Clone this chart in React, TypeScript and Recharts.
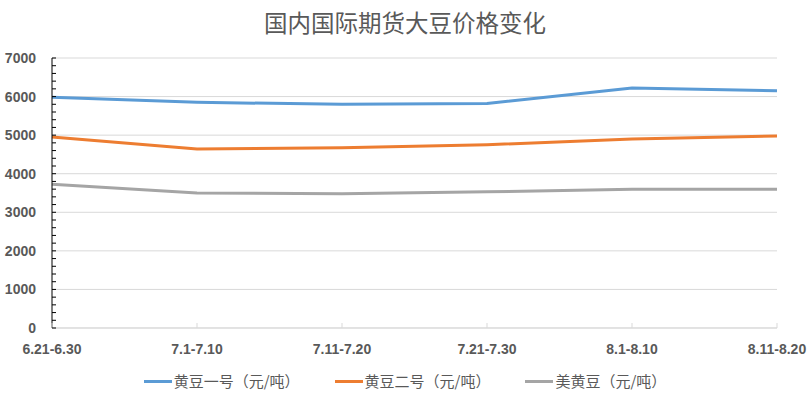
import { CartesianGrid, Line, LineChart, XAxis, YAxis } from "recharts";

const periods = [
  "6.21-6.30",
  "7.1-7.10",
  "7.11-7.20",
  "7.21-7.30",
  "8.1-8.10",
  "8.11-8.20",
];
const soyOne = [5980, 5850, 5800, 5820, 6220, 6150];
const soyTwo = [4950, 4640, 4670, 4750, 4900, 4980];
const usSoy = [3730, 3500, 3480, 3530, 3600, 3600];
const seriesNames = ["黄豆一号（元/吨）", "黄豆二号（元/吨）", "美黄豆（元/吨）"];
const seriesColors = ["#5B9BD5", "#ED7D31", "#A5A5A5"];
const yMajorTicks = [0, 1000, 2000, 3000, 4000, 5000, 6000, 7000];
const yMinorTicks = Array.from({ length: 36 }, (_, i) => i * 200);

const chartData = periods.map((period, i) => ({
  period,
  soyOne: soyOne[i],
  soyTwo: soyTwo[i],
  usSoy: usSoy[i],
}));
const seriesKeys = ["soyOne", "soyTwo", "usSoy"];

const labelFont = '"Liberation Sans", Arial, sans-serif';

const YTick = (props: any) => {
  const { x, y, payload } = props;
  const major = payload.value % 1000 === 0;
  return (
    <g>
      <line x1={x + 16} x2={x + 20} y1={y} y2={y} stroke="#000" strokeWidth={1} />
      {major ? (
        <text
          x={x}
          y={y}
          dy={5}
          textAnchor="end"
          fill="#595959"
          fontSize={14}
          fontWeight="bold"
          fontFamily={labelFont}
        >
          {payload.value}
        </text>
      ) : null}
    </g>
  );
};

const XTick = (props: any) => {
  const { x, y, payload } = props;
  return (
    <g>
      <line x1={x} x2={x} y1={y - 17} y2={y - 22} stroke="#d9d9d9" strokeWidth={1} />
      <text
        x={x}
        y={y}
        dy={9}
        textAnchor="middle"
        fill="#595959"
        fontSize={14}
        fontWeight="bold"
        fontFamily={labelFont}
      >
        {payload.value}
      </text>
    </g>
  );
};

export default function App() {
  return (
    <div
      style={{
        position: "absolute",
        left: 0,
        top: 0,
        width: 810,
        height: 393,
        background: "#fff",
      }}
    >
      <div
        style={{
          position: "absolute",
          left: 0,
          top: 7,
          width: 810,
          textAlign: "center",
          fontFamily: '"Noto Sans CJK SC", sans-serif',
          fontSize: 23.5,
          lineHeight: "30px",
          color: "#595959",
        }}
      >
        国内国际期货大豆价格变化
      </div>
      <LineChart
        width={810}
        height={393}
        data={chartData}
        margin={{ top: 58, right: 33, bottom: 0, left: 0 }}
      >
        <CartesianGrid
          vertical={false}
          horizontalValues={yMajorTicks}
          stroke="#d9d9d9"
        />
        <XAxis
          dataKey="period"
          height={65}
          interval={0}
          axisLine={{ stroke: "#d9d9d9" }}
          tickLine={false}
          tickSize={0}
          tickMargin={17}
          tick={<XTick />}
        />
        <YAxis
          width={52}
          domain={[0, 7000]}
          ticks={yMinorTicks}
          interval={0}
          axisLine={{ stroke: "#000" }}
          tickLine={false}
          tickSize={0}
          tickMargin={16}
          tick={<YTick />}
        />
        {seriesKeys.map((key, i) => (
          <Line
            key={key}
            type="linear"
            dataKey={key}
            name={seriesNames[i]}
            stroke={seriesColors[i]}
            strokeWidth={3}
            dot={false}
            activeDot={false}
            isAnimationActive={false}
          />
        ))}
      </LineChart>
      <div
        style={{
          position: "absolute",
          left: 0,
          top: 370,
          width: 810,
          display: "flex",
          justifyContent: "center",
          gap: 35,
          fontFamily: '"Noto Sans CJK SC", sans-serif',
          fontSize: 15,
          lineHeight: "22px",
          color: "#595959",
        }}
      >
        {seriesNames.map((name, i) => (
          <div key={name} style={{ display: "flex", alignItems: "center" }}>
            <span
              style={{
                display: "inline-block",
                width: 28,
                height: 3,
                background: seriesColors[i],
                marginRight: 2,
              }}
            />
            <span style={{ whiteSpace: "nowrap" }}>{name}</span>
          </div>
        ))}
      </div>
    </div>
  );
}
